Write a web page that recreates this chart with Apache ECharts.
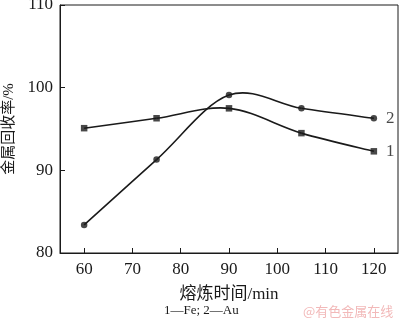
<!DOCTYPE html>
<html>
<head>
<meta charset="utf-8">
<script src="https://cdn.jsdelivr.net/npm/echarts@6/dist/echarts.min.js"></script>
<style>
  html, body { margin: 0; padding: 0; background: #fff; }
  #chart { width: 400px; height: 323px; }
</style>
</head>
<body>
<div id="chart"></div>
<script>
// Smelting time (min) and metal recovery (%)
const times = [60, 75, 90, 105, 120];
const feRecovery = [95.1, 96.3, 97.5, 94.5, 92.3];
const auRecovery = [83.4, 91.3, 99.1, 97.5, 96.3];
const xTicks = [60, 70, 80, 90, 100, 110, 120];
const curveNames = ['1', '2'];

const serif = '"Liberation Serif", "Times New Roman", "Noto Sans CJK SC", serif';
const ink = '#1a1a1a';

const chart = echarts.init(document.getElementById('chart'), null, { renderer: 'canvas' });

function pairs(ys) { return times.map((t, i) => [t, ys[i]]); }

// Catmull-Rom spline through the measured points, one cubic segment per data item
function splineSeries(ys) {
  return {
    type: 'custom',
    data: pairs(ys),
    silent: true,
    z: 1,
    renderItem: function (params, api) {
      const i = params.dataIndex;
      const n = times.length;
      if (i >= n - 1) return null;
      const p = (k) => api.coord([times[Math.max(0, Math.min(n - 1, k))], ys[Math.max(0, Math.min(n - 1, k))]]);
      const p0 = p(i - 1), p1 = p(i), p2 = p(i + 1), p3 = p(i + 2);
      return {
        type: 'bezierCurve',
        shape: {
          x1: p1[0], y1: p1[1], x2: p2[0], y2: p2[1],
          cpx1: p1[0] + (p2[0] - p0[0]) / 6, cpy1: p1[1] + (p2[1] - p0[1]) / 6,
          cpx2: p2[0] - (p3[0] - p1[0]) / 6, cpy2: p2[1] - (p3[1] - p1[1]) / 6
        },
        style: { stroke: ink, lineWidth: 1.6, fill: null }
      };
    }
  };
}

// Markers with the curve number printed beside the last point
function markerSeries(ys, symbol, label) {
  const data = pairs(ys).map((d, i) => i === ys.length - 1
    ? { value: d, label: { show: true, position: 'right', distance: 9, formatter: label,
        fontFamily: serif, fontSize: 17, color: ink } }
    : d);
  return {
    type: 'scatter', data: data, symbol: symbol, symbolSize: 6.5, z: 2,
    itemStyle: { color: ink }
  };
}

chart.setOption({
  animation: false,
  backgroundColor: '#fff',
  grid: {
    left: 60, right: 2, top: 5, bottom: 70,
    outerBoundsMode: 'none', containLabel: false,
    show: true, borderColor: ink, borderWidth: 1, backgroundColor: 'transparent'
  },
  xAxis: {
    type: 'value', min: 55, max: 125,
    name: '熔炼时间/min', nameLocation: 'middle', nameGap: 33,
    nameTextStyle: { fontFamily: serif, fontSize: 17, color: ink },
    axisLine: { show: true, lineStyle: { color: ink, width: 1 } },
    axisTick: { show: true, inside: true, length: 5, customValues: xTicks, lineStyle: { color: ink } },
    axisLabel: { customValues: xTicks, fontFamily: serif, fontSize: 17, color: ink, margin: 8 },
    splitLine: { show: false }
  },
  yAxis: {
    type: 'value', min: 80, max: 110, interval: 10,
    name: '金属回收率/%', nameLocation: 'middle', nameGap: 39, nameRotate: 90,
    nameTextStyle: { fontFamily: serif, fontSize: 15, color: ink },
    axisLine: { show: true, lineStyle: { color: ink, width: 1 } },
    axisTick: { show: true, inside: true, length: 5, lineStyle: { color: ink } },
    axisLabel: { fontFamily: serif, fontSize: 17, color: ink, margin: 7 },
    splitLine: { show: false }
  },
  series: [
    splineSeries(feRecovery),
    splineSeries(auRecovery),
    markerSeries(feRecovery, 'rect', curveNames[0]),
    markerSeries(auRecovery, 'circle', curveNames[1])
  ],
  graphic: [
    {
      type: 'text', left: 164, top: 304,
      style: { text: '1—Fe; 2—Au', font: '13px ' + serif, fill: ink }
    },
    {
      type: 'text', left: 303, top: 305,
      style: { text: '@有色金属在线', font: '13px "Noto Sans CJK SC", sans-serif', fill: '#f2b9b9' }
    }
  ]
});
</script>
</body>
</html>
